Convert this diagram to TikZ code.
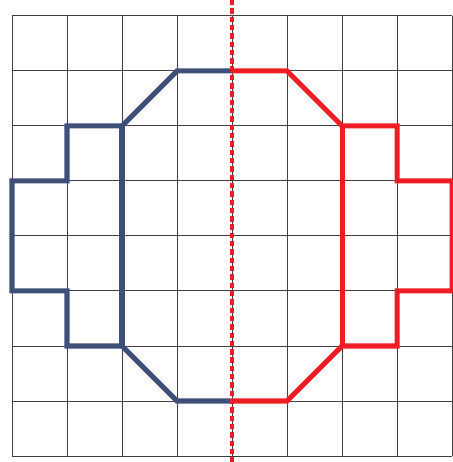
\documentclass[tikz,border=0pt]{standalone}
\usepackage{tikz}
\definecolor{ShapeBlue}{HTML}{3F5078}
\definecolor{ShapeRed}{HTML}{EE1C25}

\begin{document}
\begin{tikzpicture}[
  gridline/.style={line width=0.5pt,draw=black!75},
  leftpart/.style={line width=2.6pt,draw=ShapeBlue},
  rightpart/.style={line width=2.6pt,draw=ShapeRed},
  axisline/.style={line width=1.7pt,draw=ShapeRed,dash pattern=on 2.8pt off 1.5pt}
]
\useasboundingbox (-0.218,-0.109) rectangle (8,8.29);

% Grid
\draw[gridline] (0,0) grid (8,8);

% Left half
\draw[leftpart] (4,7) -- (3,7) -- (2,6) -- (1,6) -- (1,5) -- (0,5) -- (0,3)
  -- (1,3) -- (1,2) -- (2,2) -- (3,1) -- (4,1);
\draw[leftpart] (2,6) -- (2,2);

% Right half
\draw[rightpart] (4,7) -- (5,7) -- (6,6) -- (7,6) -- (7,5) -- (8,5) -- (8,3)
  -- (7,3) -- (7,2) -- (6,2) -- (5,1) -- (4,1);
\draw[rightpart] (6,6) -- (6,2);

% Mirror axis
\coordinate (axistop) at (4,8.29);
\coordinate (axisbottom) at (4,-0.109);
\draw[axisline] (axistop) -- (axisbottom);

\end{tikzpicture}
\end{document}
